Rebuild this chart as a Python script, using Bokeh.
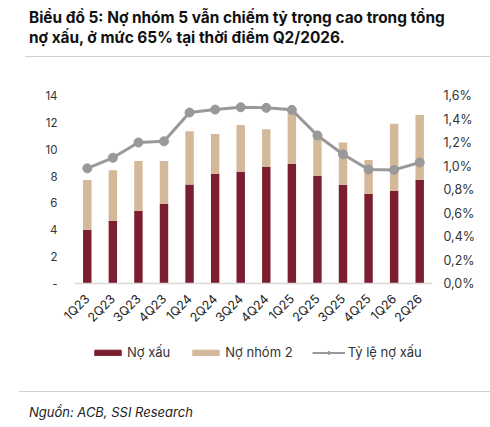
from bokeh.plotting import figure
from bokeh.models import (ColumnDataSource, Range1d, LinearAxis, FixedTicker,
                          Legend, LegendItem, Div)
from bokeh.layouts import column
from bokeh.embed import file_html
from bokeh.resources import INLINE
import math

quarters = ["1Q23", "2Q23", "3Q23", "4Q23", "1Q24", "2Q24", "3Q24", "4Q24",
            "1Q25", "2Q25", "3Q25", "4Q25", "1Q26", "2Q26"]
no_xau = [4.0, 4.67, 5.4, 5.93, 7.38, 8.15, 8.32, 8.67, 8.89, 8.0, 7.36, 6.69, 6.91, 7.7]
tong_no = [7.7, 8.44, 9.13, 9.13, 11.33, 11.13, 11.8, 11.48, 12.85, 11.0, 10.5, 9.19, 11.9, 12.54]
no_nhom2 = [round(t - n, 2) for t, n in zip(tong_no, no_xau)]
ty_le = [0.98, 1.07, 1.20, 1.21, 1.455, 1.48, 1.50, 1.495, 1.478, 1.26, 1.10, 0.97, 0.967, 1.03]

left_ticks = [0, 2, 4, 6, 8, 10, 12, 14]
right_ticks = [0.0, 0.2, 0.4, 0.6, 0.8, 1.0, 1.2, 1.4, 1.6]

FONT = "Inter"
MAROON = "#7B1E30"
TAN = "#D3B99A"
GRAY = "#999999"
TXT = "#333333"

src = ColumnDataSource(dict(q=quarters, no_xau=no_xau, no_nhom2=no_nhom2, ty_le=ty_le))

p = figure(x_range=quarters, y_range=Range1d(0, 14), width=490, height=279,
           output_backend="svg", toolbar_location=None,
           min_border_left=74, min_border_right=58, min_border_top=38,
           min_border_bottom=53, margin=0)
p.outline_line_color = None
p.grid.grid_line_color = None
p.background_fill_color = "white"
p.border_fill_color = "white"

p.extra_y_ranges = {"pct": Range1d(0, 1.6)}

bars = p.vbar_stack(["no_xau", "no_nhom2"], x="q", width=0.33, source=src,
                    color=[MAROON, TAN], line_color=None)
ln = p.line("q", "ty_le", source=src, y_range_name="pct", line_color=GRAY, line_width=3)
sc = p.scatter("q", "ty_le", source=src, y_range_name="pct", size=9,
               fill_color=GRAY, line_color=GRAY)

# left axis
ya = p.yaxis[0]
ya.ticker = FixedTicker(ticks=left_ticks)
ya.major_label_overrides = {0: "-"}
ya.axis_line_color = None
ya.major_tick_line_color = None
ya.minor_tick_line_color = None
ya.major_tick_out = 0
ya.minor_tick_out = 0
ya.major_label_standoff = 17
ya.major_label_text_font = FONT
ya.major_label_text_font_size = "11.5px"
ya.major_label_text_color = TXT

# right axis
ra = LinearAxis(y_range_name="pct")
ra.ticker = FixedTicker(ticks=right_ticks)
ra.major_label_overrides = {t: ("%.1f" % t).replace(".", ",") + "%" for t in right_ticks}
ra.axis_line_color = None
ra.major_tick_line_color = None
ra.minor_tick_line_color = None
ra.major_tick_out = 0
ra.minor_tick_out = 0
ra.major_label_standoff = 11
ra.major_label_text_font = FONT
ra.major_label_text_font_size = "12.5px"
ra.major_label_text_color = TXT
p.add_layout(ra, "right")

# x axis
xa = p.xaxis[0]
xa.axis_line_color = "#D9D9D9"
xa.axis_line_width = 1.5
xa.major_tick_line_color = None
xa.minor_tick_line_color = None
xa.major_tick_out = 0
xa.minor_tick_out = 0
xa.major_label_orientation = math.pi / 4
xa.major_label_standoff = 13
xa.major_label_text_font = FONT
xa.major_label_text_font_size = "12.5px"
xa.major_label_text_color = "#222222"

# legend row: a strip below the chart; its renderers are hidden copies of the series
lg = figure(x_range=quarters, y_range=Range1d(0, 14), width=490, height=55,
            output_backend="svg", toolbar_location=None, min_border=0, margin=0)
lg.axis.visible = False
lg.grid.grid_line_color = None
lg.outline_line_color = None
r1 = lg.vbar(x="q", top="no_xau", source=src, width=0.33, color=MAROON, visible=False)
r2 = lg.vbar(x="q", top="no_nhom2", source=src, width=0.33, color=TAN, visible=False)
r3 = lg.line(x="q", y="ty_le", source=src, line_color=GRAY, line_width=2, visible=False)
r4 = lg.scatter(x="q", y="ty_le", source=src, size=7, fill_color=GRAY,
                line_color=GRAY, visible=False)
legend = Legend(items=[
    LegendItem(label="Nợ xấu", renderers=[r1]),
    LegendItem(label="Nợ nhóm 2", renderers=[r2]),
    LegendItem(label="Tỷ lệ nợ xấu", renderers=[r3, r4]),
], orientation="horizontal", location=(17, 31))
legend.glyph_width = 33
legend.glyph_height = 7
legend.label_standoff = 3
legend.spacing = 19
legend.padding = 0
legend.margin = 0
legend.border_line_color = None
legend.background_fill_alpha = 0
legend.inactive_fill_alpha = 0
legend.label_text_font = FONT
legend.label_text_font_size = "13px"
legend.label_text_color = TXT
lg.add_layout(legend, "center")

title = Div(text="Biểu đồ 5: Nợ nhóm 5 vẫn chiếm tỷ trọng cao trong tổng<br>"
                 "nợ xấu, ở mức 65% tại thời điểm Q2/2026.",
            width=490, height=56, margin=0,
            styles={"font-family": FONT, "font-size": "15.4px", "font-weight": "bold",
                    "line-height": "20px", "color": "#111111",
                    "padding-left": "29px", "padding-top": "8px",
                    "box-sizing": "border-box", "white-space": "nowrap"})
rule1 = Div(text="", width=465, height=1, margin=(0, 0, 0, 25),
            styles={"background-color": "#D0D0D0"})
rule2 = Div(text="", width=471, height=1, margin=(0, 0, 0, 19),
            styles={"background-color": "#D0D0D0"})
source_div = Div(text="Nguồn: ACB, SSI Research", width=490, height=30, margin=0,
                 styles={"font-family": FONT, "font-size": "13px", "font-style": "italic",
                         "line-height": "16px", "color": "#222222", "padding-left": "29px",
                         "padding-top": "12px", "box-sizing": "border-box"})

layout = column(title, rule1, p, lg, rule2, source_div, spacing=0)

open("out.html", "w").write(file_html(layout, INLINE))
